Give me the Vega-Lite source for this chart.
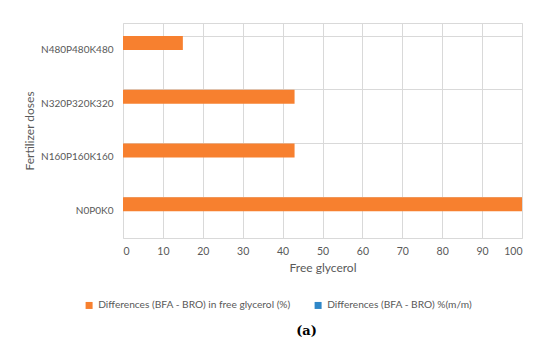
{
  "$schema": "https://vega.github.io/schema/vega-lite/v6.json",
  "width": 399,
  "height": 215,
  "autosize": {"type": "none"},
  "padding": {"left": 123, "top": 23, "right": 28, "bottom": 107},
  "background": "white",
  "config": {
    "font": "Lato",
    "view": {"stroke": "#d9d9d9", "strokeWidth": 1},
    "axis": {"labelColor": "#595959", "titleColor": "#595959", "labelFont": "Lato", "titleFont": "Lato", "labelFontSize": 10.5, "titleFontSize": 12, "titleFontWeight": "normal", "gridColor": "#d9d9d9", "gridOpacity": 1, "domain": false, "ticks": false}
  },
  "title": {"text": "(a)", "orient": "bottom", "font": "DejaVu Serif", "fontWeight": "bold", "fontSize": 13, "color": "#000000", "offset": 14, "dx": -16},
  "data": {"values": [
    {"dose": "N0P0K0", "series": "Differences (BFA - BRO) in free glycerol (%)", "value": 100},
    {"dose": "N160P160K160", "series": "Differences (BFA - BRO) in free glycerol (%)", "value": 43},
    {"dose": "N320P320K320", "series": "Differences (BFA - BRO) in free glycerol (%)", "value": 43},
    {"dose": "N480P480K480", "series": "Differences (BFA - BRO) in free glycerol (%)", "value": 15},
    {"dose": "N0P0K0", "series": "Differences (BFA - BRO) %(m/m)", "value": 0},
    {"dose": "N160P160K160", "series": "Differences (BFA - BRO) %(m/m)", "value": 0},
    {"dose": "N320P320K320", "series": "Differences (BFA - BRO) %(m/m)", "value": 0},
    {"dose": "N480P480K480", "series": "Differences (BFA - BRO) %(m/m)", "value": 0}
  ]},
  "mark": {"type": "bar", "strokeWidth": 0},
  "encoding": {
    "y": {"field": "dose", "type": "nominal", "sort": ["N480P480K480", "N320P320K320", "N160P160K160", "N0P0K0"],
      "scale": {"paddingInner": 0.486, "paddingOuter": 0.243},
      "axis": {"title": "Fertilizer doses", "labelFontSize": 10, "labelPadding": 10, "titlePadding": 4, "grid": true, "bandPosition": 0}},
    "yOffset": {"field": "series", "type": "nominal", "sort": ["Differences (BFA - BRO) in free glycerol (%)", "Differences (BFA - BRO) %(m/m)"]},
    "x": {"field": "value", "type": "quantitative", "scale": {"domain": [0, 100], "nice": false},
      "axis": {"title": "Free glycerol", "values": [0,10,20,30,40,50,60,70,80,90,100], "labelOverlap": false, "labelPadding": 8, "titlePadding": 6, "grid": true}},
    "color": {"field": "series", "type": "nominal",
      "scale": {"domain": ["Differences (BFA - BRO) in free glycerol (%)", "Differences (BFA - BRO) %(m/m)"], "range": ["#F7802F", "#2F87C8"]},
      "legend": {"title": null, "orient": "none", "legendX": -39, "legendY": 277, "direction": "horizontal", "symbolType": "square", "symbolSize": 49, "symbolStrokeWidth": 0, "labelFontSize": 10.2, "labelColor": "#595959", "labelFont": "Lato", "labelLimit": 300, "columnPadding": 22, "labelOffset": 4}}
  }
}
